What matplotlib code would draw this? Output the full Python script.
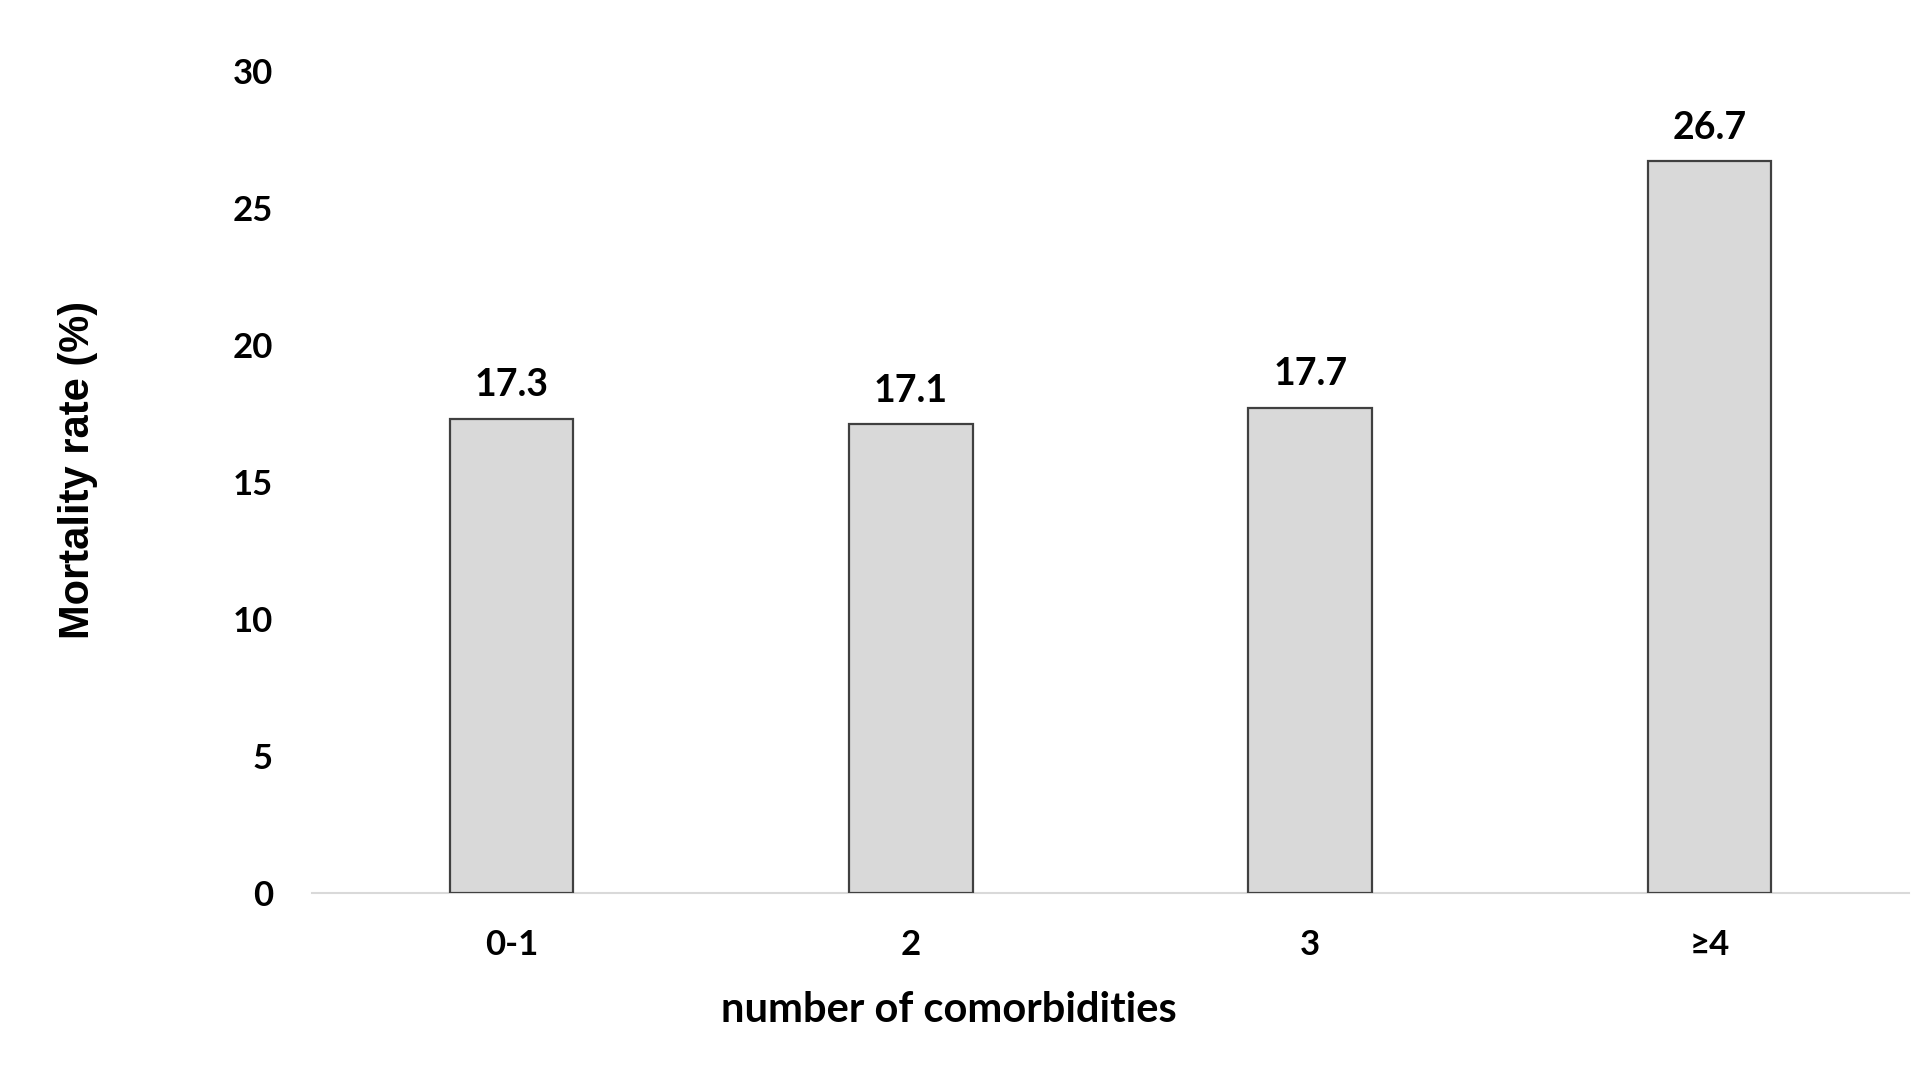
import matplotlib.pyplot as plt

categories = ['0-1', '2', '3', '≥4']
mortality = [17.3, 17.1, 17.7, 26.7]
yticks = [0, 5, 10, 15, 20, 25, 30]

plt.rcParams['font.family'] = ['Lato', 'DejaVu Sans']

fig = plt.figure(figsize=(19.13, 10.88), dpi=100)
ax = fig.add_axes([0.163, 0.179, 0.835, 0.756])

x = range(len(categories))
bars = ax.bar(x, mortality, width=0.31, color='#d9d9d9', edgecolor='#404040', linewidth=1.6, zorder=3)

for b, v in zip(bars, mortality):
    ax.annotate(f'{v:.1f}', (b.get_x() + b.get_width() / 2, v), xytext=(0, 12),
                textcoords='offset points', ha='center', va='bottom',
                fontsize=27, fontweight='bold')

ax.set_xlim(-0.5, 3.5)
ax.set_ylim(0, 30)
ax.set_yticks(yticks)
ax.set_xticks(list(x))
ax.set_xticklabels(categories)
ax.tick_params(axis='both', length=0, labelsize=25)
ax.tick_params(axis='y', pad=28)
ax.tick_params(axis='x', pad=26)
for lab in ax.get_xticklabels() + ax.get_yticklabels():
    lab.set_fontweight('bold')

for s in ['top', 'right', 'left']:
    ax.spines[s].set_visible(False)
ax.spines['bottom'].set_color('#d9d9d9')
ax.spines['bottom'].set_linewidth(1.5)

ax.set_xlabel('number of comorbidities', fontsize=30, fontweight='bold')
ax.xaxis.set_label_coords(0.399, -0.119)
ax.set_ylabel('Mortality rate (%)', fontsize=30, fontweight='bold',
              family=['Liberation Sans', 'DejaVu Sans'])
ax.yaxis.set_label_coords(-0.134, 0.515)

fig.savefig('out.png', dpi=100)
